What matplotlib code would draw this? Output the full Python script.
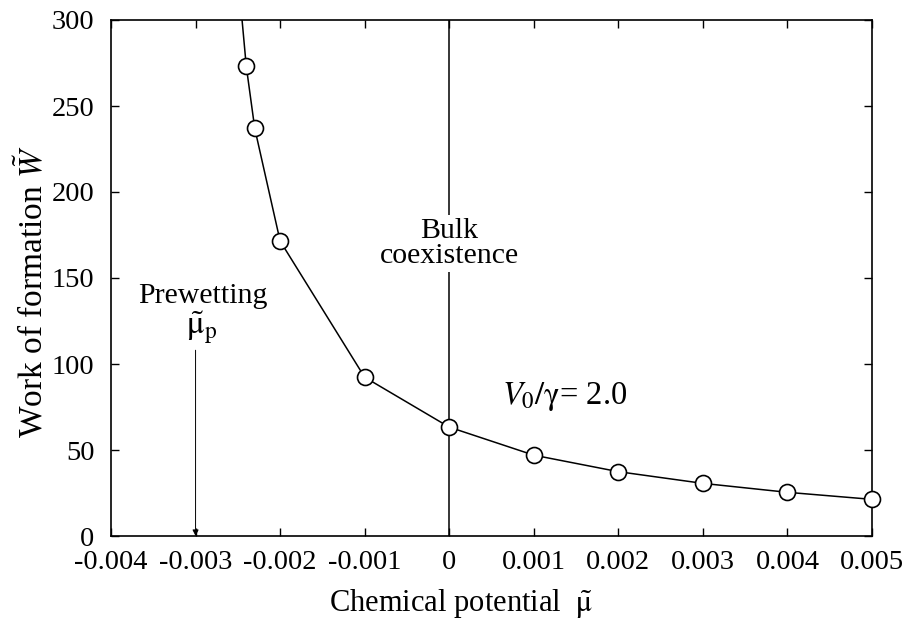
import matplotlib
matplotlib.use('Agg')
import matplotlib.pyplot as plt

plt.rcParams['font.family'] = ['Liberation Serif', 'DejaVu Serif']
plt.rcParams['mathtext.fontset'] = 'stix'

# data
mu = [-0.0025, -0.0024, -0.0023, -0.002, -0.001, 0.0, 0.001, 0.002, 0.003, 0.004, 0.005]
work = [327, 273, 237, 171.5, 92.3, 63.3, 47, 37.4, 30.6, 25.4, 21.3]
marked = slice(1, None)  # the first point only continues the line past the top

mu_prewet = -0.003
xticks = [-0.004, -0.003, -0.002, -0.001, 0, 0.001, 0.002, 0.003, 0.004, 0.005]
xticklabels = ['-0.004', '-0.003', '-0.002', '-0.001', '0', '0.001', '0.002', '0.003', '0.004', '0.005']
yticks = [0, 50, 100, 150, 200, 250, 300]

fig = plt.figure(figsize=(9.14, 6.25), dpi=100)
ax = fig.add_axes([111/914, 1-536/625, (872-111)/914, (536-20)/625])

ax.plot(mu, work, color='black', lw=1.1, zorder=3)
ax.plot(mu[marked], work[marked], ls='none', marker='o', ms=11.5, mfc='white',
        mec='black', mew=1.2, zorder=4, clip_on=False)

# bulk coexistence line with gap for text
ax.axvline(0, color='black', lw=1.1, zorder=2)
ax.text(0.0, 170, 'Bulk\ncoexistence', ha='center', va='center', fontsize=21.5,
        linespacing=0.95, zorder=2.5,
        bbox=dict(facecolor='white', edgecolor='none', pad=2))

ax.text(-0.00291, 135.5, 'Prewetting', ha='center', va='baseline', fontsize=21.5)
ax.text(-0.00293, 121, r'$\tilde{\mathrm{\mu}}_\mathrm{p}$', ha='center', va='center', fontsize=24)
ax.annotate('', xy=(mu_prewet, 0), xytext=(mu_prewet, 108),
            arrowprops=dict(arrowstyle='-|>', color='black', lw=0.7,
                            mutation_scale=9, shrinkA=0, shrinkB=0))

ax.text(0.00136, 81, r'$V_0/\mathrm{\gamma}$= 2.0', ha='center', va='center', fontsize=23.5)

ax.set_xlim(-0.004, 0.005)
ax.set_ylim(0, 300)
ax.set_xticks(xticks)
ax.set_xticklabels(xticklabels)
ax.set_yticks(yticks)
ax.tick_params(direction='in', length=6, width=1, top=True, right=True,
               labelsize=20.5)
ax.tick_params(axis='x', pad=10)
ax.tick_params(axis='y', pad=12)
for s in ax.spines.values():
    s.set_linewidth(1.2)

ax.set_xlabel(r'Chemical potential  $\tilde{\mathrm{\mu}}$', fontsize=22)
ax.set_ylabel(r'Work of formation $\tilde{W}$', fontsize=24)
ax.xaxis.set_label_coords(0.46, -0.13)
ax.xaxis.label.set_va('center')
ax.yaxis.set_label_coords(-0.102, 0.473)
ax.yaxis.label.set_va('center')

fig.savefig('out.png', dpi=100)
